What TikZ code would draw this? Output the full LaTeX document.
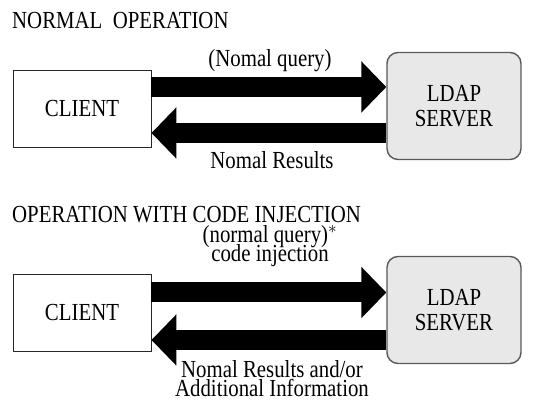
\documentclass[tikz,border=0pt]{standalone}
\usepackage{fontspec}
\setmainfont{Liberation Serif}[FakeStretch=0.85]
\usetikzlibrary{arrows.meta,positioning}
\newcommand\figfont{\fontsize{24.5}{19.5}\selectfont\lineskiplimit=-50pt\relax}
\begin{document}
\begin{tikzpicture}[x=1pt,y=1pt,
 every node/.style={font=\figfont},
 client/.style={draw=black!85,fill=white,line width=0.9pt,minimum width=138pt,minimum height=77pt,inner sep=0pt},
 server/.style={draw=black!65,fill=black!9,line width=1.4pt,rounded corners=11pt,minimum width=134pt,minimum height=107pt,inner sep=0pt,align=center,font=\fontsize{24.5}{25}\selectfont},
 flow/.style={line width=20pt,-{Triangle[length=25pt,width=50pt]}},
 lbl/.style={align=center,inner sep=0pt,anchor=base},
 title/.style={anchor=base west,inner sep=0pt}]
 \useasboundingbox (0,0) rectangle (547,406);
 % normal operation
 \node[title] (t1) at (12,377) {NORMAL\ \ OPERATION};
 \node[client] (c1) at (82,297.5) {CLIENT};
 \node[server] (s1) at (454,300) {LDAP\\SERVER};
 \draw[flow] ([yshift=21.5pt]c1.east) -- ([yshift=21.5pt]c1.east -| s1.west);
 \draw[flow] ([yshift=-24.5pt]c1.east -| s1.west) -- ([yshift=-24.5pt]c1.east);
 \node[lbl] (q1) at (270,339) {(Nomal query)};
 \node[lbl] (r1) at (272,237) {Nomal Results};
 % with code injection
 \node[title] (t2) at (12,183) {OPERATION\ WITH\ CODE\ INJECTION};
 \node[client] (c2) at (82,93) {CLIENT};
 \node[server] (s2) at (454,96) {LDAP\\SERVER};
 \draw[flow] ([yshift=20.5pt]c2.east) -- ([yshift=20.5pt]c2.east -| s2.west);
 \draw[flow] ([yshift=-27pt]c2.east -| s2.west) -- ([yshift=-27pt]c2.east);
 \node[lbl] (q2) at (270,144) {(normal query)$^{*}$\\code injection};
 \node[lbl] (r2) at (272,9) {Nomal Results and/or\\Additional Information};
\end{tikzpicture}
\end{document}
